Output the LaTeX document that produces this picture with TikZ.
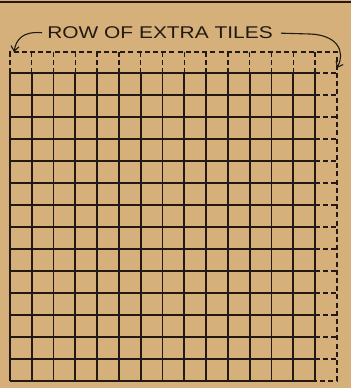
\documentclass[tikz,border=0pt]{standalone}
\usepackage{fontspec}
\setmainfont{Liberation Sans}
\usetikzlibrary{arrows.meta}
\definecolor{paper}{RGB}{213,176,122}
\definecolor{ink}{RGB}{35,25,18}
\begin{document}
\begin{tikzpicture}[x=1pt,y=-1pt,
  gridline/.style={ink, line width=1.8pt},
  extra/.style={ink, line width=1.4pt, dash pattern=on 5pt off 3.2pt},
  lbl/.style={font=\fontsize{17}{17}\selectfont, text=ink, inner sep=2pt},
  callout/.style={ink, line width=1.1pt, -{Straight Barb[length=5pt,width=8pt]}}]
\fill[paper] (0,0) rectangle (351,388);
\useasboundingbox (0,0) rectangle (351,388);
\draw[ink, line width=1.3pt] (0,2) -- (351,2);
% solid grid 14 x 14
\foreach \i in {0,...,14} {
  \draw[gridline] ({10+\i*305/14},73) -- ({10+\i*305/14},381);
  \draw[gridline] (10,{73+\i*22}) -- (315,{73+\i*22});
}
% dashed extra row and column
\draw[extra] (10,73) -- (10,52) -- (337,52) -- (337,381) -- (315,381);
\foreach \i in {1,...,14} \draw[extra] ({10+\i*305/14},52) -- ({10+\i*305/14},73);
\foreach \j in {0,...,13} \draw[extra] (315,{73+\j*22}) -- (337,{73+\j*22});
% label and arrows
\node[lbl] (label) at (160,33) {\scalebox{1.23}[1]{ROW OF EXTRA TILES}};
\coordinate (ltip) at (14,52);
\coordinate (rtip) at (337,68);
\draw[callout, shorten <=3pt] (label.west) .. controls (22,31) and (16,40) .. (ltip);
\draw[callout, shorten <=6pt] (label.east) -- (310,34) .. controls (336,35) and (346,50) .. (rtip);
\end{tikzpicture}
\end{document}
